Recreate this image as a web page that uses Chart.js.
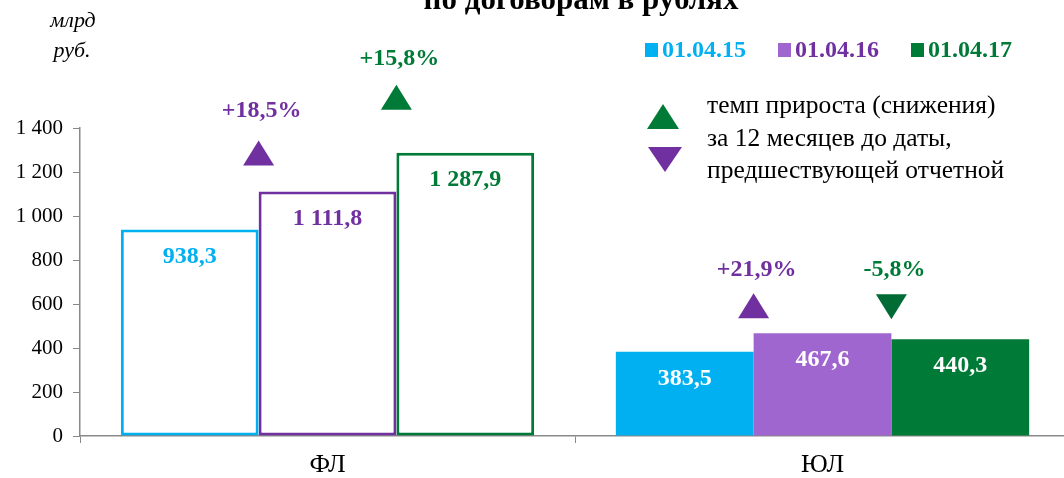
<!DOCTYPE html>
<html>
<head>
<meta charset="utf-8">
<script src="https://cdn.jsdelivr.net/npm/chart.js@4.4.1/dist/chart.umd.min.js"></script>
<style>
  html, body { margin: 0; padding: 0; background: #fff; overflow: hidden; }
  #wrap { width: 1070px; height: 478px; }
</style>
</head>
<body>
<div id="wrap"><canvas id="chart" width="1070" height="478"></canvas></div>
<script>
(function () {
  'use strict';

  const categories = ['ФЛ', 'ЮЛ'];
  const dates = ['01.04.15', '01.04.16', '01.04.17'];
  const val15 = [938.3, 383.5];
  const val16 = [1111.8, 467.6];
  const val17 = [1287.9, 440.3];
  const growth16 = [18.5, 21.9];
  const growth17 = [15.8, -5.8];
  const yTicks = [0, 200, 400, 600, 800, 1000, 1200, 1400];

  const CYAN = '#00B0F0';
  const PURPLE = '#7030A0';
  const PURPLE_FILL = '#A066D0';
  const GREEN = '#007A37';
  const GREEN_DARK = '#006B35';
  const FONT = "'Liberation Serif', 'Times New Roman', serif";

  // gap between bar top and triangle, then triangle to label (px), per series/category
  const MARK_GAP = { 1: [26, 15], 2: [43, 20] };
  const LABEL_GAP = { 1: [55, 48], 2: [51, 49] };

  const fmt = (v, d) => {
    const s = v.toFixed(d).replace('.', ',');
    const [i, f] = s.split(',');
    const ii = i.replace(/\B(?=(\d{3})+(?!\d))/g, ' ');
    return f !== undefined ? ii + ',' + f : ii;
  };
  const fmtPct = v => (v > 0 ? '+' : '') + v.toFixed(1).replace('.', ',') + '%';

  function tri(ctx, cx, base, w, h, up, color) {
    ctx.fillStyle = color;
    ctx.beginPath();
    if (up) {
      ctx.moveTo(cx - w / 2, base);
      ctx.lineTo(cx + w / 2, base);
      ctx.lineTo(cx, base - h);
    } else {
      ctx.moveTo(cx - w / 2, base - h);
      ctx.lineTo(cx + w / 2, base - h);
      ctx.lineTo(cx, base);
    }
    ctx.closePath();
    ctx.fill();
  }

  const decor = {
    id: 'decor',
    afterDatasetsDraw(chart) {
      const ctx = chart.ctx;
      const seriesColors = [CYAN, PURPLE, GREEN];
      ctx.save();

      // values inside bars
      ctx.font = 'bold 24px ' + FONT;
      ctx.textAlign = 'center';
      ctx.textBaseline = 'middle';
      chart.data.datasets.forEach((ds, di) => {
        chart.getDatasetMeta(di).data.forEach((bar, ci) => {
          ctx.fillStyle = ci === 0 ? seriesColors[di] : '#fff';
          ctx.fillText(fmt(ds.data[ci], 1), bar.x, bar.y + 27);
        });
      });

      // growth triangles
      const growth = { 1: growth16, 2: growth17 };
      [1, 2].forEach(di => {
        chart.getDatasetMeta(di).data.forEach((bar, ci) => {
          const g = growth[di][ci];
          const left = bar.x - bar.width / 2;
          const base = bar.y - MARK_GAP[di][ci];
          const color = di === 1 ? PURPLE : (g < 0 ? GREEN_DARK : GREEN);
          tri(ctx, left, base, 31, 25, g >= 0, color);
          ctx.fillStyle = di === 1 ? PURPLE : GREEN;
          ctx.font = 'bold 24px ' + FONT;
          ctx.fillText(fmtPct(g), left + 3, base - LABEL_GAP[di][ci]);
        });
      });

      // title (cut off at top)
      ctx.fillStyle = '#000';
      ctx.font = 'bold 31px ' + FONT;
      ctx.textBaseline = 'alphabetic';
      ctx.fillText('по договорам в рублях', 581, 9);

      // units
      ctx.font = 'italic 22px ' + FONT;
      ctx.textBaseline = 'middle';
      ctx.fillText('млрд', 73, 21);
      ctx.fillText('руб.', 72, 51);

      // series legend
      let x = 645;
      ctx.font = 'bold 24px ' + FONT;
      ctx.textAlign = 'left';
      const legFill = [CYAN, PURPLE_FILL, GREEN];
      const legText = [CYAN, PURPLE, GREEN];
      dates.forEach((d, i) => {
        ctx.fillStyle = legFill[i];
        ctx.fillRect(x, 43, 13, 14);
        ctx.fillStyle = legText[i];
        ctx.fillText(d, x + 17, 51);
        x += 17 + ctx.measureText(d).width + 32;
      });

      // triangle legend
      tri(ctx, 663, 129, 32, 25, true, GREEN);
      tri(ctx, 665, 172, 34, 25, false, PURPLE);
      ctx.fillStyle = '#000';
      ctx.font = '25.5px ' + FONT;
      ctx.fillText('темп прироста (снижения)', 707, 106);
      ctx.fillText('за 12 месяцев до даты,', 707, 139);
      ctx.fillText('предшествующей отчетной', 707, 171);

      ctx.restore();
    }
  };

  const mkSet = (label, data, color, fill) => ({
    label,
    data,
    backgroundColor: ['#fff', fill],
    borderColor: [color, fill],
    borderWidth: [3, 0],
    borderSkipped: false,
    categoryPercentage: 0.835,
    barPercentage: 1.0
  });

  new Chart(document.getElementById('chart'), {
    type: 'bar',
    data: {
      labels: categories,
      datasets: [
        mkSet(dates[0], val15, CYAN, CYAN),
        mkSet(dates[1], val16, PURPLE, PURPLE_FILL),
        mkSet(dates[2], val17, GREEN, GREEN)
      ]
    },
    options: {
      responsive: false,
      animation: false,
      devicePixelRatio: 1,
      layout: { padding: { top: 128, left: 0, right: 0, bottom: 0 } },
      plugins: {
        legend: { display: false },
        tooltip: { enabled: false }
      },
      scales: {
        x: {
          afterFit: s => { s.height = 42; },
          border: { color: '#898989', width: 1.5 },
          grid: { drawOnChartArea: false, tickLength: 7, color: '#898989' },
          ticks: { color: '#000', font: { family: FONT, size: 26 }, padding: 7 }
        },
        y: {
          min: 0,
          max: 1400,
          afterFit: s => { s.width = 80; },
          afterBuildTicks: s => { s.ticks = yTicks.map(v => ({ value: v })); },
          border: { color: '#898989', width: 1.5 },
          grid: { drawOnChartArea: false, tickLength: 7, color: '#898989' },
          ticks: {
            color: '#000',
            font: { family: FONT, size: 21 },
            padding: 10,
            callback: v => fmt(v, 0)
          }
        }
      }
    },
    plugins: [decor]
  });
})();
</script>
</body>
</html>
